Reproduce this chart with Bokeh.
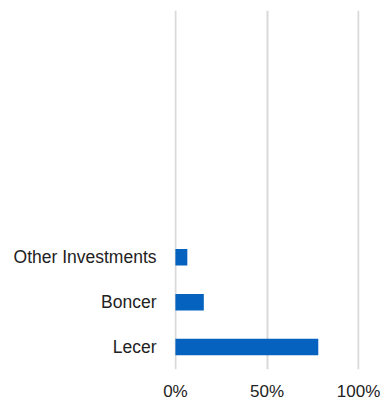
from bokeh.plotting import figure
from bokeh.models import FactorRange, Range1d, FixedTicker, NumeralTickFormatter
from bokeh.embed import file_html
from bokeh.resources import INLINE

categories = ["Lecer", "Boncer", "Other Investments"]
values = [0.78, 0.155, 0.065]
x_ticks = [0, 0.5, 1.0]
blank_slots = [" " * i for i in range(1, 6)]

factors = categories + blank_slots

p = figure(width=385, height=403, output_backend="svg", toolbar_location=None,
           y_range=FactorRange(factors=factors, range_padding=0),
           x_range=Range1d(-0.005, 1.005),
           min_border_left=174, min_border_top=10, min_border_right=26, min_border_bottom=33)

p.hbar(y=categories, right=values, left=0, height=0.37, color="#0562bf", line_color=None)

p.outline_line_color = None
p.ygrid.grid_line_color = None
p.xgrid.grid_line_color = "#d9d9d9"
p.xgrid.grid_line_width = 2
p.xgrid.level = "underlay"
p.xaxis.ticker = FixedTicker(ticks=x_ticks)
p.xaxis.formatter = NumeralTickFormatter(format="0%")

for ax in (p.xaxis, p.yaxis):
    ax.axis_line_color = None
    ax.major_tick_line_color = None
    ax.minor_tick_line_color = None
    ax.major_tick_out = 0
    ax.major_tick_in = 0
    ax.major_label_text_font = "Liberation Sans"
    ax.major_label_text_color = "#222222"

p.yaxis.major_label_text_font_size = "17.5px"
p.yaxis.major_label_standoff = 18
p.xaxis.major_label_text_font_size = "17px"
p.xaxis.major_label_standoff = 12

open("out.html", "w").write(file_html(p, INLINE))
